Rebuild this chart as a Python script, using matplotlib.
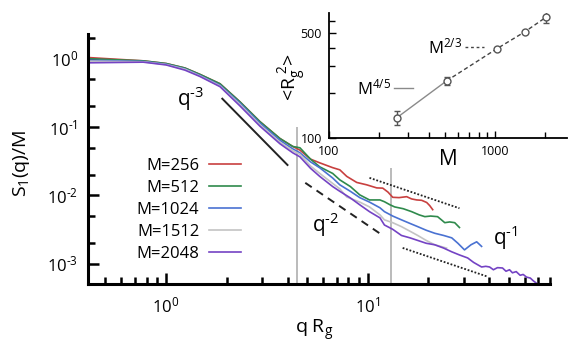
import matplotlib
matplotlib.use('Agg')
import numpy as np
import matplotlib.pyplot as plt
from matplotlib.ticker import FixedLocator, NullFormatter, LogLocator, FuncFormatter

plt.rcParams['font.family'] = ['Open Sans', 'DejaVu Sans']
plt.rcParams['mathtext.fontset'] = 'custom'
plt.rcParams['mathtext.rm'] = 'Open Sans'
plt.rcParams['mathtext.it'] = 'Open Sans:italic'
plt.rcParams['mathtext.default'] = 'regular'

# Structure factor S1(q)/M against q Rg for each chain length M
labels = ['M=256', 'M=512', 'M=1024', 'M=1512', 'M=2048']
colors = ['#c8403f', '#2f8a4c', '#4a72d2', '#c4c4c4', '#7443c4']

q_256 = [0.41, 0.77, 1.0, 1.24, 1.47, 1.85, 2.32, 2.92, 3.67, 4.25, 4.61, 5.2, 5.78,
         6.7, 7.27, 7.87, 8.82, 9.89, 11.08, 11.87, 12.6, 13.3, 14.3, 15.6, 16.5,
         17.5, 18.5, 19.6, 20.3, 21.0]
s_256 = [1.04, 0.93, 0.85, 0.73, 0.59, 0.43, 0.235, 0.12, 0.068, 0.052, 0.046, 0.034,
         0.030, 0.0255, 0.0237, 0.019, 0.0155, 0.0143, 0.0129, 0.0128, 0.0112, 0.0094,
         0.0093, 0.0096, 0.0089, 0.0086, 0.0085, 0.0079, 0.0071, 0.0062]

q_512 = [0.41, 0.77, 1.0, 1.24, 1.47, 1.85, 2.32, 2.92, 3.67, 4.25, 4.61, 5.2, 5.78,
         6.7, 7.27, 8.2, 9.13, 10.2, 11.5, 12.1, 12.9, 13.6, 15.0, 16.5, 18.0, 19.2,
         20.5, 22.2, 23.2, 24.1, 25.5, 27.0, 28.5]
s_512 = [1.0, 0.93, 0.85, 0.73, 0.59, 0.43, 0.235, 0.12, 0.068, 0.052, 0.0498, 0.034,
         0.0262, 0.021, 0.0169, 0.0135, 0.0102, 0.0086, 0.0086, 0.0081, 0.0073, 0.0068,
         0.0064, 0.0058, 0.0052, 0.0049, 0.0050, 0.0049, 0.0044, 0.0040, 0.0041,
         0.0040, 0.0034]

q_1024 = [0.41, 0.77, 1.0, 1.24, 1.47, 1.85, 2.32, 2.92, 3.67, 4.25, 4.61, 5.2, 5.78,
          6.7, 7.27, 8.2, 9.13, 10.2, 11.5, 12.1, 13.3, 14.7, 16.2, 17.7, 19.5, 21.5,
          23.8, 26.1, 28.0, 30.2, 32.5, 34.7, 36.7]
s_1024 = [0.95, 0.91, 0.83, 0.71, 0.57, 0.41, 0.225, 0.114, 0.064, 0.048, 0.0421,
          0.031, 0.0254, 0.018, 0.0143, 0.0115, 0.0093, 0.0080, 0.0066, 0.0058, 0.0050,
          0.0044, 0.0039, 0.0035, 0.0031, 0.0028, 0.0026, 0.0024, 0.0020, 0.0016,
          0.0019, 0.0021, 0.0018]

q_1512 = [0.41, 0.77, 1.0, 1.24, 1.47, 1.85, 2.32, 2.92, 3.67, 4.25, 4.61, 5.2, 5.78,
          6.7, 7.27, 7.87, 9.13, 10.2, 11.5, 12.1, 13.3, 14.7, 16.2, 17.7, 19.5, 21.5,
          23.0, 24.6]
s_1512 = [0.92, 0.90, 0.82, 0.70, 0.56, 0.40, 0.215, 0.108, 0.060, 0.045, 0.040,
          0.027, 0.021, 0.015, 0.0125, 0.0095, 0.0080, 0.0068, 0.0052, 0.0044, 0.0040,
          0.0035, 0.0030, 0.0026, 0.0022, 0.0019, 0.0018, 0.0017]

q_2048 = [0.41, 0.77, 1.0, 1.24, 1.47, 1.85, 2.32, 2.92, 3.67, 4.25, 4.61, 5.2, 5.78,
          6.7, 7.27, 8.2, 9.13, 10.2, 11.5, 12.1, 13.3, 14.7, 16.2, 17.7, 19.5, 21.5,
          23.8, 26.1, 28.5, 31.3, 33.5, 36.7, 38.5, 40.2, 42.0, 44.0, 46.6, 48.5, 50.5,
          52.2, 54.5, 57.0, 59.0, 61.3, 64.0, 66.0, 68.7, 70.5, 72.6]
s_2048 = [0.87, 0.89, 0.81, 0.68, 0.55, 0.39, 0.205, 0.103, 0.057, 0.042, 0.0367,
          0.025, 0.019, 0.0135, 0.0115, 0.0092, 0.0073, 0.0058, 0.0047, 0.0037, 0.0032,
          0.0026, 0.0024, 0.0022, 0.0020, 0.0019, 0.0017, 0.0015, 0.00135, 0.00122,
          0.00105, 0.00090, 0.00092, 0.00090, 0.00082, 0.00088, 0.00087, 0.00078,
          0.00082, 0.00074, 0.00077, 0.00068, 0.00070, 0.00064, 0.00062, 0.00057,
          0.00052, 0.00050, 0.00046]

curves_q = [q_256, q_512, q_1024, q_1512, q_2048]
curves_s = [s_256, s_512, s_1024, s_1512, s_2048]

# Power-law guide lines (end points)
q3_x, q3_y = [1.9, 4.0], [0.26, 0.0279]
q2_x, q2_y = [4.9, 11.7], [0.0153, 0.00268]
q1a_x, q1a_y = [10.2, 28.5], [0.0181, 0.0065]
q1b_x, q1b_y = [14.9, 39.3], [0.00171, 0.00065]

# Crossover markers
vline_q = [4.45, 13.1]
vline_top = [0.1, 0.025]

# Inset: mean square radius of gyration vs M
M_vals = [256, 512, 1024, 1512, 2048]
rg2_vals = [136, 240, 392, 509, 641]
rg2_err = [14, 16, 8, 10, 60]

xmin, xmax = 0.41, 80
ymin, ymax = 5.1e-4, 2.3


def pow10(v, pos):
    e = int(round(np.log10(v)))
    if e < 0:
        return '10$^{\\text{-}%d}$' % (-e)
    return '10$^{%d}$' % e


fig = plt.figure(figsize=(5.68, 3.5), dpi=100)
ax = fig.add_axes([0.155, 0.189, 0.813, 0.714])
ax.set_xscale('log')
ax.set_yscale('log')
ax.set_xlim(xmin, xmax)
ax.set_ylim(ymin, ymax)

ax.vlines(vline_q, ymin, vline_top, color='#a8a8a8', lw=1.1, zorder=1)

for q, s, c, lab in zip(curves_q, curves_s, colors, labels):
    ax.plot(q, s, color=c, lw=1.2, label=lab, zorder=2)

ax.plot(q3_x, q3_y, color='#222222', lw=1.4)
ax.plot(q2_x, q2_y, color='#222222', lw=1.4, dashes=(4, 3))
ax.plot(q1a_x, q1a_y, color='#222222', lw=1.3, dashes=(1, 1))
ax.plot(q1b_x, q1b_y, color='#222222', lw=1.3, dashes=(1, 1))

ax.text(1.134, 0.205, 'q$^{\\text{-}3}$', fontsize=15, va='baseline', ha='left')
ax.text(5.28, 0.00293, 'q$^{\\text{-}2}$', fontsize=15, va='baseline', ha='left')
ax.text(41.6, 0.00189, 'q$^{\\text{-}1}$', fontsize=15, va='baseline', ha='left')

for side in ['top', 'right']:
    ax.spines[side].set_visible(False)
for side in ['left', 'bottom']:
    ax.spines[side].set_linewidth(2.2)
ax.yaxis.set_major_locator(LogLocator(base=10, numticks=10))
ax.yaxis.set_minor_locator(LogLocator(base=10, subs=(2, 5), numticks=10))
ax.yaxis.set_major_formatter(FuncFormatter(pow10))
ax.xaxis.set_major_formatter(FuncFormatter(pow10))
ax.yaxis.set_minor_formatter(NullFormatter())
ax.xaxis.set_minor_formatter(NullFormatter())
ax.tick_params(which='major', direction='in', length=8, width=1.8, labelsize=12)
ax.tick_params(axis='x', which='major', pad=9)
ax.tick_params(axis='y', which='major', pad=7)
ax.tick_params(which='minor', direction='in', length=5, width=1.8)

leg = ax.legend(loc='center right', bbox_to_anchor=(241 / 568, 1 - 210 / 350),
                bbox_transform=fig.transFigure, frameon=False, markerfirst=False,
                fontsize=12, handlelength=1.9, handletextpad=0.6, labelspacing=0.36,
                borderpad=0, borderaxespad=0)

fig.text(22 / 568, 1 - 163 / 350, 'S$_1$(q)/M', rotation=90, ha='center', va='center',
         fontsize=14)
fig.text(314 / 568, 1 - 330 / 350, 'q R$_g$', ha='center', va='center', fontsize=14)

# Inset
ins = fig.add_axes([0.579, 0.606, 0.419, 0.357])
ins.set_facecolor('none')
ins.set_xscale('log')
ins.set_yscale('log')
ins.set_xlim(100, 2717)
ins.set_ylim(100, 681)

ins.plot(M_vals[:2], rg2_vals[:2], color='#8a8a8a', lw=1.0)
ins.plot(M_vals[1:], rg2_vals[1:], color='#444444', lw=1.0, dashes=(3, 2))
ins.errorbar(M_vals, rg2_vals, yerr=rg2_err, fmt='o', mfc='white', mec='#555555',
             ecolor='#555555', ms=5, mew=1.0, capsize=2, elinewidth=1.0, zorder=3)

ins.plot([247, 321], [215, 215], color='#8a8a8a', lw=1.0)
ins.plot([659, 859], [404, 404], color='#444444', lw=1.0, dashes=(2, 2))
ins.text(236, 215, 'M$^{4/5}$', fontsize=12, ha='right', va='center')
ins.text(630, 404, 'M$^{2/3}$', fontsize=12, ha='right', va='center')

for side in ['top', 'right']:
    ins.spines[side].set_visible(False)
for side in ['left', 'bottom']:
    ins.spines[side].set_linewidth(1.3)
ins.xaxis.set_major_locator(FixedLocator([100, 1000]))
ins.xaxis.set_minor_locator(FixedLocator([200, 300, 400, 500, 600, 700, 800, 900, 2000]))
ins.set_xticklabels(['100', '1000'])
ins.xaxis.set_minor_formatter(NullFormatter())
ins.yaxis.set_major_locator(FixedLocator([100, 500]))
ins.yaxis.set_minor_locator(FixedLocator([200, 300, 400, 600]))
ins.set_yticklabels(['100', '500'])
ins.yaxis.set_minor_formatter(NullFormatter())
ins.tick_params(which='major', direction='in', length=5, width=1.0, labelsize=9, pad=5)
ins.tick_params(which='minor', direction='in', length=4, width=1.0)

fig.text(293 / 568, 1 - 77 / 350, '<R$_g^{\\ 2}$>', rotation=90, ha='center', va='center',
         fontsize=14)
fig.text(448 / 568, 1 - 160 / 350, 'M', ha='center', va='center', fontsize=15)

fig.savefig('out.png', dpi=100)
